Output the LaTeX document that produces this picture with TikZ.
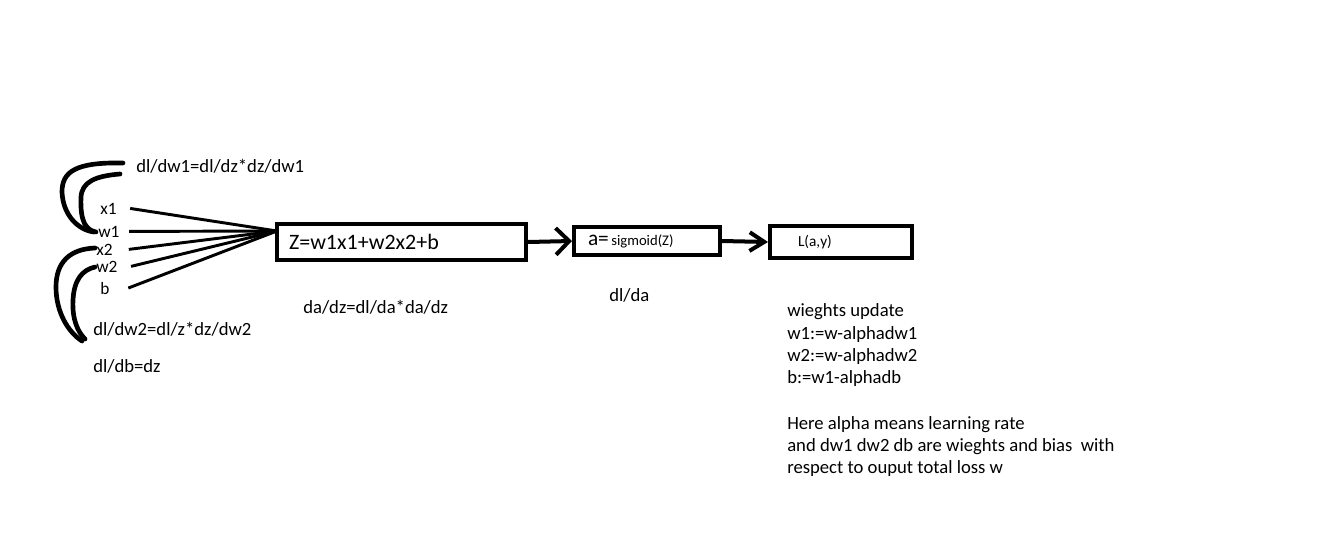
\documentclass[tikz,border=0pt]{standalone}
\usepackage{fontspec}
\setmainfont{Carlito}
\usetikzlibrary{arrows.meta}

\begin{document}
\begin{tikzpicture}[x=0.75pt,y=-0.75pt,
        lbl/.style={anchor=base west,inner sep=0pt,font=\fontsize{13}{15}\selectfont},
        big/.style={anchor=base west,inner sep=0pt,font=\fontsize{14}{16.7}\selectfont},
        blk/.style={draw,line width=3pt,inner ysep=0pt,align=left},
        feed/.style={line width=2.2pt},
        link/.style={line width=3pt},
        brace/.style={line width=3.5pt,line cap=round}]
        \useasboundingbox (0,0) rectangle (1339,554);
        % inputs
        \node[lbl] (x1) at (100,214) {x1};
        \node[lbl] (w1) at (98,237) {w1};
        \node[lbl] (x2) at (96,255) {x2};
        \node[lbl] (w2) at (96,272) {w2};
        \node[lbl] (b) at (100,294) {b};
        % gradients
        \node[big] (gw1) at (136,172) {dl/dw1=dl/dz*dz/dw1};
        \node[big] (gw2) at (93,335) {dl/dw2=dl/z*dz/dw2};
        \node[big] (gb) at (93,372) {dl/db=dz};
        % blocks
        \node[blk,minimum width=186.75pt,minimum height=27pt,inner xsep=9pt,text width=168.75pt,font=\fontsize{16.5}{18}\selectfont] (zbox) at (401.5,242) {Z=w1x1+w2x2+b};
        \node[blk,minimum width=109.5pt,minimum height=21pt,inner xsep=10.5pt,text width=88.5pt] (abox) at (647,241) {\fontsize{16}{18}\selectfont a=\fontsize{11}{13}\selectfont\,sigmoid(Z)};
        \node[blk,minimum width=106.5pt,minimum height=24pt,inner xsep=21pt,text width=64.5pt,font=\fontsize{11.5}{13}\selectfont] (lbox) at (841,242) {L(a,y)};
        \node[big] (gz) at (303,313) {da/dz=dl/da*da/dz};
        \node[big] (ga) at (609,301) {dl/da};
        \node[big,anchor=north west,align=left] (upd) at (787,303.5) {wieghts update\\w1:=w-alphadw1\\w2:=w-alphadw2\\b:=w1-alphadb\\[17.5pt]Here alpha means learning rate\\and dw1 dw2 db are wieghts and bias\ \ with\\respect to ouput total loss w};
        % connectors
        \coordinate (zin) at (277,231);
        \draw[feed] ([xshift=10pt]x1.east) -- (zin);
        \draw[feed] ([xshift=7pt]w1.east) -- (zin);
        \draw[feed] ([xshift=12pt]x2.east) -- (zin);
        \draw[feed] ([xshift=10pt]w2.east) -- (zin);
        \draw[feed] ([xshift=14pt]b.east) -- (zin);
        \draw[link,-{Straight Barb[length=10pt,width=20pt]}] (zbox.east) -- (abox.west);
        \draw[link,-{Straight Barb[length=11pt,width=14pt]}] (abox.east) -- (lbox.west);
        % brackets
        \draw[brace] (123,163) .. controls (75,162) and (62,172) .. (62,192) .. controls (63,215) and (78,230) .. (94,232);
        \draw[brace] (120,174) .. controls (95,176) and (82,182) .. (81,197) .. controls (80,222) and (86,230) .. (96,232);
        \draw[brace] (95,248) .. controls (70,249) and (56,262) .. (56,287) .. controls (56,312) and (68,332) .. (82,341);
        \draw[brace] (95,267) .. controls (82,270) and (74,280) .. (73,300) .. controls (72,320) and (78,332) .. (85,339);
\end{tikzpicture}
\end{document}
